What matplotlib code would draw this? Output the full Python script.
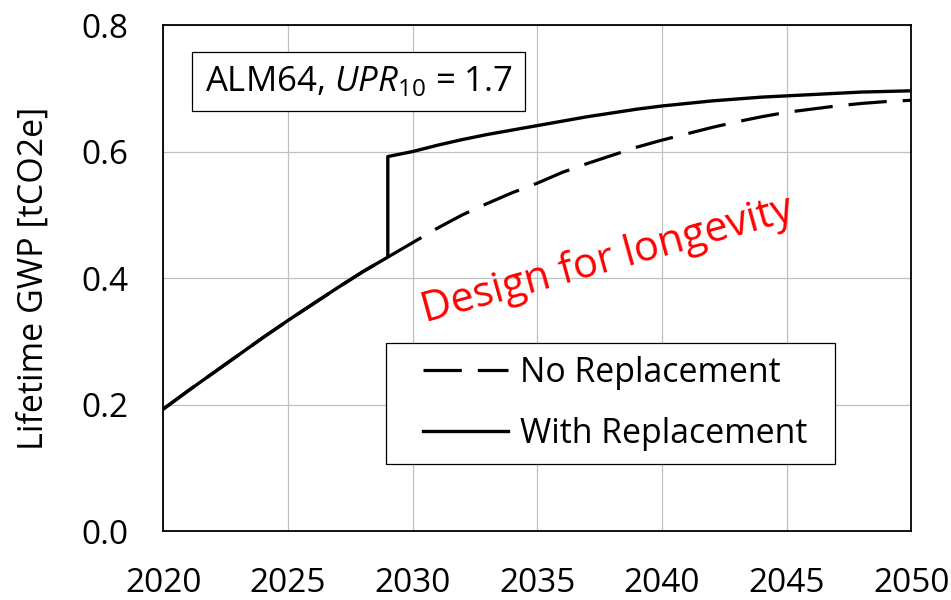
import matplotlib
matplotlib.use("Agg")
import matplotlib.pyplot as plt
from matplotlib.path import Path

years = list(range(2020, 2051))
no_replacement = [0.193, 0.222, 0.250, 0.278, 0.306, 0.333, 0.359, 0.385, 0.410, 0.433,
                  0.456, 0.479, 0.500, 0.518, 0.535, 0.550, 0.567, 0.581, 0.594, 0.607,
                  0.618, 0.628, 0.638, 0.647, 0.655, 0.662, 0.667, 0.672, 0.676, 0.679, 0.681]
with_rep_years = list(range(2020, 2030)) + [2029] + list(range(2030, 2051))
with_replacement = [0.193, 0.222, 0.250, 0.278, 0.306, 0.333, 0.359, 0.385, 0.410, 0.433,
                    0.592, 0.600, 0.610, 0.619, 0.627, 0.634, 0.641, 0.648, 0.655, 0.661, 0.667,
                    0.672, 0.676, 0.680, 0.683, 0.686, 0.688, 0.690, 0.692, 0.694, 0.695, 0.696]
xticks = [2020, 2025, 2030, 2035, 2040, 2045, 2050]
yticks = [0.0, 0.2, 0.4, 0.6, 0.8]

plt.rcParams['font.family'] = ['Open Sans', 'DejaVu Sans']
plt.rcParams['mathtext.fontset'] = 'custom'
plt.rcParams['mathtext.rm'] = 'Open Sans'
plt.rcParams['mathtext.it'] = 'Open Sans:italic'

fig = plt.figure(figsize=(9.51, 6.0), dpi=100)
ax = fig.add_axes([0.1719, 0.115, 0.7863, 0.8433])

ax.plot(years, no_replacement, color='black', lw=2.3, dashes=(12, 5),
        label='No Replacement', zorder=3)
ax.plot(with_rep_years, with_replacement, color='black', lw=2.4,
        label='With Replacement', zorder=4)

ax.set_xlim(2020, 2050)
ax.set_ylim(0, 0.8)
ax.set_xticks(xticks)
ax.set_yticks(yticks)
ax.set_yticklabels([f"{v:.1f}" for v in yticks], fontsize=24)
ax.set_xticklabels([str(v) for v in xticks], fontsize=24)
ax.tick_params(axis='both', length=0)
ax.tick_params(axis='y', pad=25)
ax.tick_params(axis='x', pad=26)
ax.grid(True, color='#c0c0c0', lw=0.9)
ax.set_axisbelow(True)
for s in ax.spines.values():
    s.set_linewidth(1.3)
    s.set_color('black')

ax.set_ylabel('Lifetime GWP [tCO2e]', fontsize=24.5, labelpad=22)

ax.text(2027.83, 0.7107, r'ALM64, $\mathit{UPR}_{10}$ = 1.7', fontsize=25,
        ha='center', va='center',
        bbox=dict(boxstyle='square,pad=0.36', facecolor='white', edgecolor='black', lw=0.9),
        zorder=5)

ax.text(2037.8, 0.4285, 'Design for longevity', color='#ff0000', fontsize=30,
        rotation=15.5, ha='center', va='center', rotation_mode='anchor', zorder=5)

leg = ax.legend(loc='upper left', bbox_to_anchor=(0.329, 0.372), borderaxespad=0,
                fontsize=24.4, handlelength=2.5, handletextpad=0.35, labelspacing=0.78,
                fancybox=False, framealpha=1, edgecolor='black', borderpad=0.4)


def legend_frame(x0, y0, width, height, mutation_size):
    s = fig.dpi / 100.0
    left, right = 23 * s, 14 * s
    verts = [(x0 - left, y0), (x0 + width + right, y0), (x0 + width + right, y0 + height),
             (x0 - left, y0 + height), (x0 - left, y0)]
    codes = [Path.MOVETO, Path.LINETO, Path.LINETO, Path.LINETO, Path.CLOSEPOLY]
    return Path(verts, codes)


leg.get_frame().set_boxstyle(legend_frame)
leg.get_frame().set_linewidth(0.9)

fig.savefig('out.png', dpi=100)
